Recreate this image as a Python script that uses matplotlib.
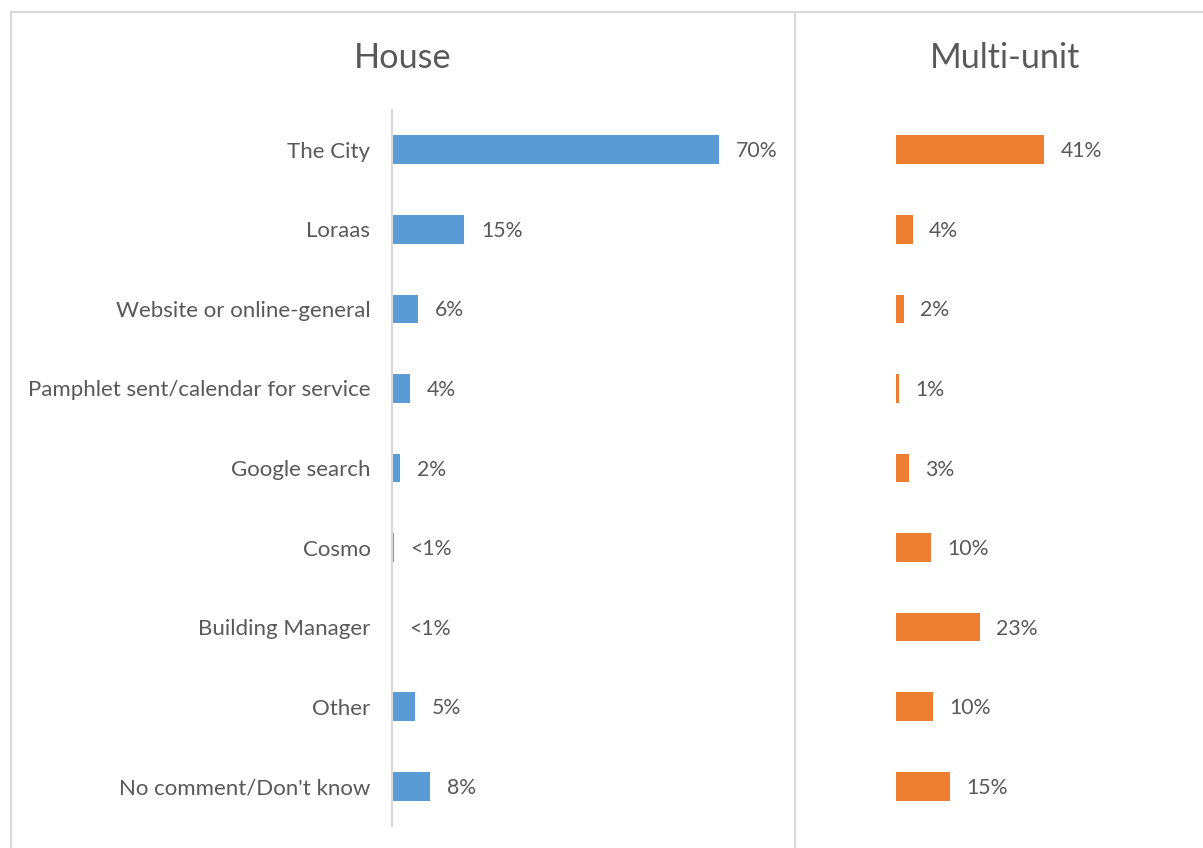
import matplotlib
import matplotlib.pyplot as plt
from matplotlib.lines import Line2D

matplotlib.use("Agg")

# ── Dados ──────────────────────────────────────────────────────────
categorias = [
    "The City",
    "Loraas",
    "Website or online-general",
    "Pamphlet sent/calendar for service",
    "Google search",
    "Cosmo",
    "Building Manager",
    "Other",
    "No comment/Don't know",
]
casa_valores = [70, 15.5, 5.6, 3.9, 1.7, 0.4, 0.0, 4.9, 8.1]
casa_rotulos = ["70%", "15%", "6%", "4%", "2%", "<1%", "<1%", "5%", "8%"]
multi_valores = [41, 4.6, 2.2, 0.8, 3.6, 9.7, 23.3, 10.2, 15]
multi_rotulos = ["41%", "4%", "2%", "1%", "3%", "10%", "23%", "10%", "15%"]

COR_AZUL = "#5b9bd5"
COR_LARANJA = "#ed7d31"
COR_TEXTO = "#595959"
COR_BORDA = "#d9d9d9"

plt.rcParams["font.family"] = ["Lato", "DejaVu Sans"]

W, H = 1203, 848
fig = plt.figure(figsize=(W / 100, H / 100), dpi=100)


def _eixo(x0, x1, y0, y1):
    # coordenadas em pixels (origem no topo)
    return fig.add_axes([x0 / W, 1 - y1 / H, (x1 - x0) / W, (y1 - y0) / H])


def _barras(ax, valores, rotulos, cor, escala_max, mostrar_cat, folga):
    y = list(range(len(categorias)))
    ax.barh(y, valores, color=cor, height=0.36)
    for yi, val, rot in zip(y, valores, rotulos):
        ax.text(val + escala_max * folga, yi + 0.02, rot, va="center", ha="left",
                fontsize=15.3, color=COR_TEXTO)
    ax.set_ylim(len(categorias) - 0.5, -0.5)
    ax.set_xlim(0, escala_max)
    ax.set_xticks([])
    ax.set_yticks(y)
    if mostrar_cat:
        ax.set_yticklabels(categorias, fontsize=16, color=COR_TEXTO)
    else:
        ax.set_yticklabels([])
    ax.tick_params(axis="y", length=0, pad=15.5)
    for lado in ("top", "right", "bottom"):
        ax.spines[lado].set_visible(False)
    ax.spines["left"].set_color(COR_BORDA)
    ax.spines["left"].set_linewidth(1.5)
    if not mostrar_cat:
        ax.spines["left"].set_visible(False)
    ax.patch.set_alpha(0)


ax_casa = _eixo(392, 766, 110, 826)
_barras(ax_casa, casa_valores, casa_rotulos, COR_AZUL, 80, True, 0.045)

ax_multi = _eixo(896, 1185, 110, 826)
_barras(ax_multi, multi_valores, multi_rotulos, COR_LARANJA, 80, False, 0.056)

# Títulos dos painéis
fig.text(403 / W, 1 - 58 / H, "House", ha="center", va="center",
         fontsize=24.7, color=COR_TEXTO)
fig.text(1005 / W, 1 - 58 / H, "Multi-unit", ha="center", va="center",
         fontsize=24.7, color=COR_TEXTO)

# Moldura
for xs, ys in [
    ([11, 11], [12, H]),
    ([11, W], [12, 12]),
    ([795, 795], [12, H]),
]:
    fig.add_artist(Line2D([x / W for x in xs], [1 - v / H for v in ys],
                          color=COR_BORDA, linewidth=1.5))

fig.savefig("out.png", dpi=100)
